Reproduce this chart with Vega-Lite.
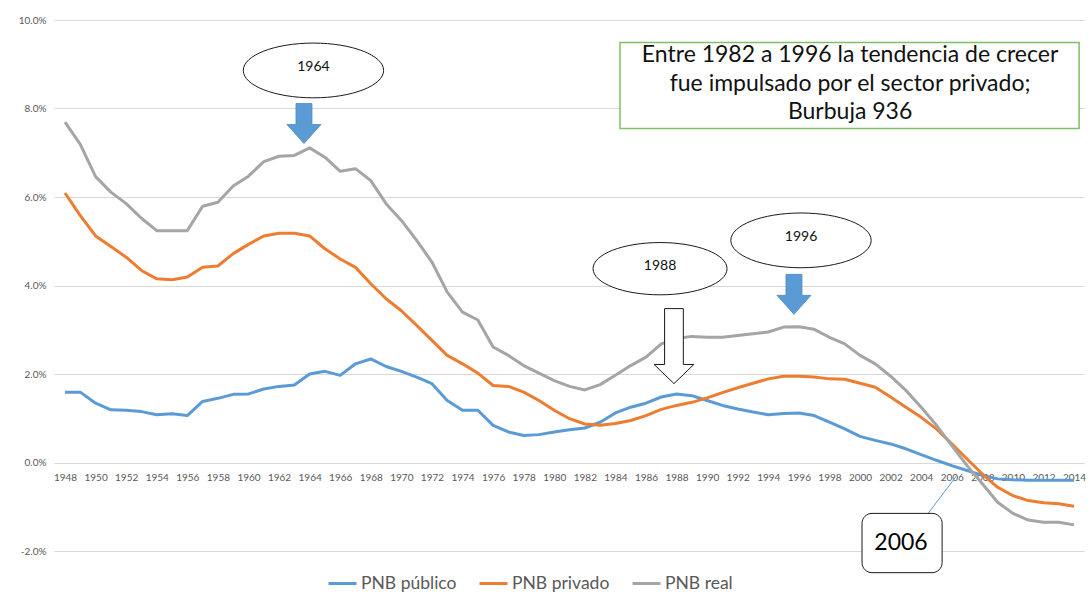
{
  "$schema": "https://vega.github.io/schema/vega-lite/v6.json",
  "width": 1030,
  "height": 531,
  "autosize": {"type": "none"},
  "padding": {"left": 54, "top": 20, "right": 4, "bottom": 41},
  "background": "white",
  "config": {"view": {"stroke": null}, "font": "Lato"},
  "datasets": {
    "pnb": [
      {"year": 1948, "PNB público": 1.59, "PNB privado": 6.09, "PNB real": 7.69},
      {"year": 1949, "PNB público": 1.59, "PNB privado": 5.58, "PNB real": 7.19},
      {"year": 1950, "PNB público": 1.34, "PNB privado": 5.12, "PNB real": 6.46},
      {"year": 1951, "PNB público": 1.19, "PNB privado": 4.88, "PNB real": 6.11},
      {"year": 1952, "PNB público": 1.18, "PNB privado": 4.64, "PNB real": 5.85},
      {"year": 1953, "PNB público": 1.15, "PNB privado": 4.34, "PNB real": 5.52},
      {"year": 1954, "PNB público": 1.08, "PNB privado": 4.15, "PNB real": 5.24},
      {"year": 1955, "PNB público": 1.10, "PNB privado": 4.13, "PNB real": 5.24},
      {"year": 1956, "PNB público": 1.06, "PNB privado": 4.19, "PNB real": 5.24},
      {"year": 1957, "PNB público": 1.38, "PNB privado": 4.41, "PNB real": 5.79},
      {"year": 1958, "PNB público": 1.45, "PNB privado": 4.44, "PNB real": 5.88},
      {"year": 1959, "PNB público": 1.54, "PNB privado": 4.72, "PNB real": 6.25},
      {"year": 1960, "PNB público": 1.55, "PNB privado": 4.93, "PNB real": 6.47},
      {"year": 1961, "PNB público": 1.66, "PNB privado": 5.12, "PNB real": 6.80},
      {"year": 1962, "PNB público": 1.72, "PNB privado": 5.18, "PNB real": 6.92},
      {"year": 1963, "PNB público": 1.75, "PNB privado": 5.18, "PNB real": 6.94},
      {"year": 1964, "PNB público": 2.00, "PNB privado": 5.12, "PNB real": 7.11},
      {"year": 1965, "PNB público": 2.06, "PNB privado": 4.83, "PNB real": 6.90},
      {"year": 1966, "PNB público": 1.97, "PNB privado": 4.60, "PNB real": 6.58},
      {"year": 1967, "PNB público": 2.23, "PNB privado": 4.41, "PNB real": 6.64},
      {"year": 1968, "PNB público": 2.34, "PNB privado": 4.04, "PNB real": 6.37},
      {"year": 1969, "PNB público": 2.17, "PNB privado": 3.70, "PNB real": 5.85},
      {"year": 1970, "PNB público": 2.06, "PNB privado": 3.43, "PNB real": 5.47},
      {"year": 1971, "PNB público": 1.93, "PNB privado": 3.10, "PNB real": 5.02},
      {"year": 1972, "PNB público": 1.78, "PNB privado": 2.76, "PNB real": 4.53},
      {"year": 1973, "PNB público": 1.40, "PNB privado": 2.42, "PNB real": 3.85},
      {"year": 1974, "PNB público": 1.18, "PNB privado": 2.23, "PNB real": 3.40},
      {"year": 1975, "PNB público": 1.18, "PNB privado": 2.02, "PNB real": 3.22},
      {"year": 1976, "PNB público": 0.84, "PNB privado": 1.74, "PNB real": 2.61},
      {"year": 1977, "PNB público": 0.69, "PNB privado": 1.72, "PNB real": 2.42},
      {"year": 1978, "PNB público": 0.61, "PNB privado": 1.59, "PNB real": 2.19},
      {"year": 1979, "PNB público": 0.63, "PNB privado": 1.40, "PNB real": 2.02},
      {"year": 1980, "PNB público": 0.69, "PNB privado": 1.18, "PNB real": 1.85},
      {"year": 1981, "PNB público": 0.74, "PNB privado": 0.99, "PNB real": 1.72},
      {"year": 1982, "PNB público": 0.78, "PNB privado": 0.87, "PNB real": 1.64},
      {"year": 1983, "PNB público": 0.91, "PNB privado": 0.84, "PNB real": 1.76},
      {"year": 1984, "PNB público": 1.12, "PNB privado": 0.88, "PNB real": 1.97},
      {"year": 1985, "PNB público": 1.25, "PNB privado": 0.95, "PNB real": 2.19},
      {"year": 1986, "PNB público": 1.34, "PNB privado": 1.06, "PNB real": 2.38},
      {"year": 1987, "PNB público": 1.48, "PNB privado": 1.20, "PNB real": 2.68},
      {"year": 1988, "PNB público": 1.55, "PNB privado": 1.29, "PNB real": 2.80},
      {"year": 1989, "PNB público": 1.51, "PNB privado": 1.36, "PNB real": 2.85},
      {"year": 1990, "PNB público": 1.40, "PNB privado": 1.46, "PNB real": 2.83},
      {"year": 1991, "PNB público": 1.29, "PNB privado": 1.58, "PNB real": 2.83},
      {"year": 1992, "PNB público": 1.21, "PNB privado": 1.69, "PNB real": 2.87},
      {"year": 1993, "PNB público": 1.14, "PNB privado": 1.79, "PNB real": 2.91},
      {"year": 1994, "PNB público": 1.08, "PNB privado": 1.89, "PNB real": 2.95},
      {"year": 1995, "PNB público": 1.11, "PNB privado": 1.95, "PNB real": 3.06},
      {"year": 1996, "PNB público": 1.12, "PNB privado": 1.95, "PNB real": 3.07},
      {"year": 1997, "PNB público": 1.06, "PNB privado": 1.93, "PNB real": 3.01},
      {"year": 1998, "PNB público": 0.91, "PNB privado": 1.89, "PNB real": 2.83},
      {"year": 1999, "PNB público": 0.76, "PNB privado": 1.88, "PNB real": 2.68},
      {"year": 2000, "PNB público": 0.59, "PNB privado": 1.79, "PNB real": 2.42},
      {"year": 2001, "PNB público": 0.50, "PNB privado": 1.70, "PNB real": 2.23},
      {"year": 2002, "PNB público": 0.42, "PNB privado": 1.48, "PNB real": 1.95},
      {"year": 2003, "PNB público": 0.31, "PNB privado": 1.25, "PNB real": 1.63},
      {"year": 2004, "PNB público": 0.18, "PNB privado": 1.02, "PNB real": 1.25},
      {"year": 2005, "PNB público": 0.05, "PNB privado": 0.76, "PNB real": 0.84},
      {"year": 2006, "PNB público": -0.07, "PNB privado": 0.42, "PNB real": 0.38},
      {"year": 2007, "PNB público": -0.18, "PNB privado": 0.08, "PNB real": -0.07},
      {"year": 2008, "PNB público": -0.29, "PNB privado": -0.26, "PNB real": -0.48},
      {"year": 2009, "PNB público": -0.37, "PNB privado": -0.56, "PNB real": -0.90},
      {"year": 2010, "PNB público": -0.39, "PNB privado": -0.75, "PNB real": -1.15},
      {"year": 2011, "PNB público": -0.40, "PNB privado": -0.86, "PNB real": -1.30},
      {"year": 2012, "PNB público": -0.40, "PNB privado": -0.91, "PNB real": -1.35},
      {"year": 2013, "PNB público": -0.40, "PNB privado": -0.93, "PNB real": -1.35},
      {"year": 2014, "PNB público": -0.40, "PNB privado": -0.99, "PNB real": -1.41}
    ],
    "ellipsesBig": [
      {"year": 1964.25, "value": 8.86, "label": "1964"},
      {"year": 1996.14, "value": 5.02, "label": "1996"}
    ],
    "ellipseSmall": [
      {"year": 1986.92, "value": 4.38, "label": "1988"}
    ],
    "blueArrows": [
      {"year": 1963.63, "value": 7.66},
      {"year": 1995.68, "value": 3.80}
    ],
    "whiteArrow": [
      {"year": 1987.83, "value": 2.63}
    ],
    "noteBox": [
      {"year": 1984.30, "year2": 2014.33, "value": 9.49, "value2": 7.55}
    ],
    "noteText": [
      {"year": 1999.35, "value": 9.20, "label": "Entre 1982 a 1996 la tendencia de crecer\nfue impulsado por el sector privado;\nBurbuja 936"}
    ],
    "box2006": [
      {"year": 2000.13, "year2": 2005.37, "value": -1.15, "value2": -2.49}
    ],
    "text2006": [
      {"year": 2002.68, "value": -1.83, "label": "2006"}
    ],
    "line2006": [
      {"year": 2003.86, "value": -1.42, "year2": 2006.34, "value2": -0.29}
    ]
  },
  "encoding": {
    "x": {
      "field": "year",
      "type": "quantitative",
      "scale": {"domain": [1947.28, 2014.65], "nice": false, "zero": false},
      "axis": {
        "values": [1948, 1950, 1952, 1954, 1956, 1958, 1960, 1962, 1964, 1966, 1968, 1970, 1972, 1974, 1976, 1978, 1980, 1982, 1984, 1986, 1988, 1990, 1992, 1994, 1996, 1998, 2000, 2002, 2004, 2006, 2008, 2010, 2012, 2014],
        "format": "d",
        "title": null,
        "grid": false,
        "domain": false,
        "ticks": false,
        "labelFontSize": 10,
        "labelColor": "#595959",
        "labelPadding": 10,
        "offset": -89,
        "labelFlush": false,
        "labelOverlap": false
      }
    },
    "y": {
      "field": "value",
      "type": "quantitative",
      "scale": {"domain": [-2, 10], "nice": false, "zero": false},
      "axis": {
        "values": [-2, 0, 2, 4, 6, 8, 10],
        "labelExpr": "(datum.value < 0 ? '-' : '') + format(abs(datum.value), '.1f') + '%'",
        "title": null,
        "grid": true,
        "gridColor": "#D9D9D9",
        "gridWidth": 1,
        "domain": false,
        "ticks": false,
        "labelFontSize": 10,
        "labelColor": "#595959",
        "labelPadding": 8
      }
    }
  },
  "layer": [
    {
      "data": {"name": "pnb"},
      "transform": [{"fold": ["PNB público", "PNB privado", "PNB real"], "as": ["serie", "value"]}],
      "mark": {"type": "line", "strokeWidth": 3, "strokeJoin": "round"},
      "encoding": {
        "color": {
          "field": "serie",
          "type": "nominal",
          "sort": ["PNB público", "PNB privado", "PNB real"],
          "scale": {"domain": ["PNB público", "PNB privado", "PNB real"], "range": ["#5B9BD5", "#ED7D31", "#A5A5A5"]},
          "legend": {
            "orient": "none",
            "legendX": 273,
            "legendY": 548,
            "direction": "horizontal",
            "title": null,
            "symbolType": "stroke",
            "symbolSize": 784,
            "symbolStrokeWidth": 3,
            "labelFontSize": 17.5,
            "labelColor": "#595959",
            "labelOffset": 3,
            "columnPadding": 16,
            "padding": 0
          }
        }
      }
    },
    {
      "data": {"name": "ellipsesBig"},
      "mark": {"type": "point", "shape": "M -1 0 C -1 -0.2154 -0.5523 -0.39 0 -0.39 C 0.5523 -0.39 1 -0.2154 1 0 C 1 0.2154 0.5523 0.39 0 0.39 C -0.5523 0.39 -1 0.2154 -1 0 Z", "size": 19700, "filled": true, "fill": "white", "stroke": "#1a1a1a", "strokeWidth": 1, "opacity": 1}
    },
    {
      "data": {"name": "ellipseSmall"},
      "mark": {"type": "point", "shape": "M -1 0 C -1 -0.2154 -0.5523 -0.39 0 -0.39 C 0.5523 -0.39 1 -0.2154 1 0 C 1 0.2154 0.5523 0.39 0 0.39 C -0.5523 0.39 -1 0.2154 -1 0 Z", "size": 17956, "filled": true, "fill": "white", "stroke": "#1a1a1a", "strokeWidth": 1, "opacity": 1}
    },
    {
      "data": {"name": "ellipsesBig"},
      "mark": {"type": "text", "fontSize": 14, "color": "#111111", "baseline": "middle", "align": "center", "dy": -3},
      "encoding": {"text": {"field": "label"}}
    },
    {
      "data": {"name": "ellipseSmall"},
      "mark": {"type": "text", "fontSize": 14, "color": "#111111", "baseline": "middle", "align": "center", "dy": -3},
      "encoding": {"text": {"field": "label"}}
    },
    {
      "data": {"name": "blueArrows"},
      "mark": {"type": "point", "shape": "M -0.4 -1 L 0.4 -1 L 0.4 0.05 L 0.85 0.05 L 0 1 L -0.85 0.05 L -0.4 0.05 Z", "size": 1600, "filled": true, "fill": "#5B9BD5", "stroke": "#4A86BE", "strokeWidth": 0.75, "opacity": 1}
    },
    {
      "data": {"name": "whiteArrow"},
      "mark": {"type": "point", "shape": "M -0.25 -1 L 0.25 -1 L 0.25 0.49 L 0.53 0.49 L 0 1 L -0.53 0.49 L -0.25 0.49 Z", "size": 5625, "filled": true, "fill": "white", "stroke": "#1a1a1a", "strokeWidth": 1, "opacity": 1}
    },
    {
      "data": {"name": "noteBox"},
      "mark": {"type": "rect", "fill": "white", "stroke": "#82BE62", "strokeWidth": 1.5},
      "encoding": {"x2": {"field": "year2"}, "y2": {"field": "value2"}}
    },
    {
      "data": {"name": "noteText"},
      "mark": {"type": "text", "fontSize": 23, "color": "#111111", "align": "center", "baseline": "middle", "lineBreak": "\n", "lineHeight": 28.5},
      "encoding": {"text": {"field": "label"}}
    },
    {
      "data": {"name": "line2006"},
      "mark": {"type": "rule", "color": "#5B9BD5", "strokeWidth": 1},
      "encoding": {"x2": {"field": "year2"}, "y2": {"field": "value2"}}
    },
    {
      "data": {"name": "box2006"},
      "mark": {"type": "rect", "fill": "white", "stroke": "#1a1a1a", "strokeWidth": 1, "cornerRadius": 10},
      "encoding": {"x2": {"field": "year2"}, "y2": {"field": "value2"}}
    },
    {
      "data": {"name": "text2006"},
      "mark": {"type": "text", "fontSize": 23, "color": "#000000", "align": "center", "baseline": "middle"},
      "encoding": {"text": {"field": "label"}}
    }
  ]
}
